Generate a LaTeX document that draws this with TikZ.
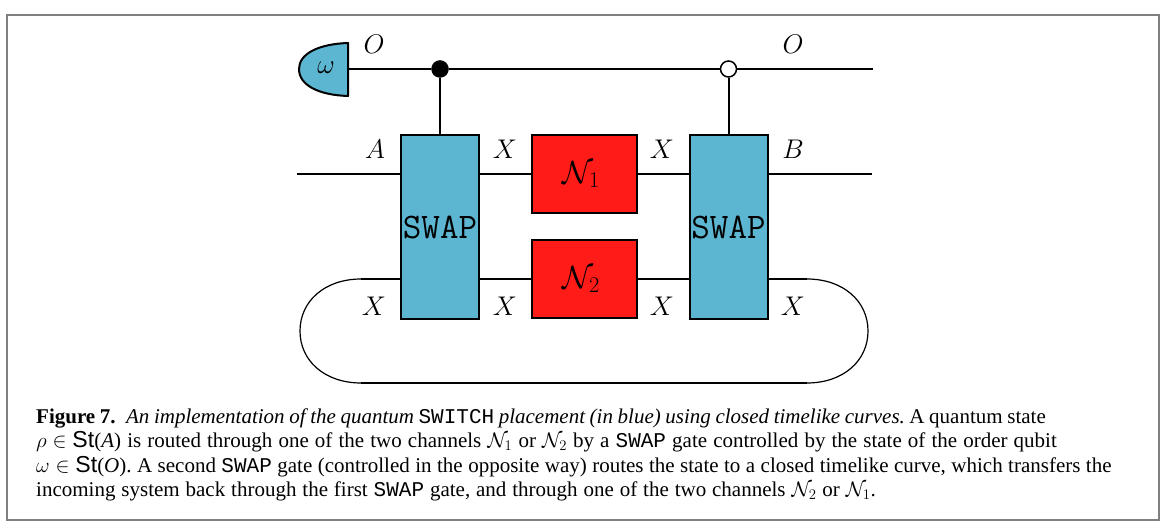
\RequirePackage{fix-cm}
\documentclass[tikz,border=0pt]{standalone}
\usepackage{amsmath, amssymb}
\usepackage{fontspec}
\setmainfont{Liberation Serif}
\setsansfont[Scale=1.1]{Liberation Sans}
\newfontfamily\captt{Liberation Mono}
\usepackage{tikz}
\definecolor{swapblue}{RGB}{93,182,209}
\definecolor{chanred}{RGB}{255,27,24}
\definecolor{framegray}{RGB}{128,128,128}
\tikzset{
  wire/.style={line width=2pt},
  swapbox/.style={draw, line width=2pt, fill=swapblue, minimum width=78pt, minimum height=184pt, inner sep=0pt, font=\fontsize{36}{36}\selectfont\ttfamily},
  chanbox/.style={draw, line width=2pt, fill=chanred, minimum width=105pt, minimum height=78pt, inner sep=0pt, font=\fontsize{32}{32}\selectfont},
  syslabel/.style={inner sep=0pt, font=\fontsize{27}{27}\selectfont},
  capline/.style={anchor=base west, inner sep=0pt, font=\fontsize{21}{24}\selectfont\frenchspacing}
}
\begin{document}
\begin{tikzpicture}[x=1pt, y=-1pt]
        \useasboundingbox (0,0) rectangle (1165,521);
        \draw[framegray, line width=2pt] (7,15) rectangle (1159,520);

        % Nodes
        \node[swapbox] (swap1) at (440,227) {SWAP};
        \node[swapbox] (swap2) at (728.5,227) {SWAP};
        \node[chanbox] (chan1) at (584.5,174.5) {\kern-6pt$\mathcal{N}_1$};
        \node[chanbox] (chan2) at (584.5,279.5) {\kern-6pt$\mathcal{N}_2$};
        \node[draw, circle, fill=black, inner sep=0pt, minimum size=17pt] (ctrl1) at (440,69) {};
        \node[draw, circle, fill=white, line width=1.5pt, inner sep=0pt, minimum size=16pt] (ctrl2) at (728.5,69) {};

        % Free ends
        \coordinate (mtr) at (348,69);
        \coordinate (outO) at (873,69);
        \coordinate (inA) at (297,174.5);
        \coordinate (outB) at (872,174.5);
        \coordinate (loopL) at (361,279);
        \coordinate (loopR) at (807,279);
        \coordinate (loopLb) at (361,383);
        \coordinate (loopRb) at (807,383);

        % Order qubit state
        \draw[wire, fill=swapblue, line join=round] (348,43) .. controls (318,44) and (299,54) .. (299,69) .. controls (299,85) and (318,95) .. (348,96) -- cycle;
        \node[syslabel] (omega) at (326,68) {$\omega$};

        % Edges
        \draw[wire] (mtr) -- (ctrl1);
        \draw[wire] (ctrl1) -- (ctrl2);
        \draw[wire] (ctrl2) -- (outO);
        \draw[wire] (ctrl1) -- (swap1);
        \draw[wire] (ctrl2) -- (swap2);
        \draw[wire] (inA) -- (inA -| swap1.west);
        \draw[wire] (chan1.west -| swap1.east) -- (chan1.west);
        \draw[wire] (chan1.east) -- (chan1.east -| swap2.west);
        \draw[wire] (swap2.east |- outB) -- (outB);
        \draw[wire] (loopL) -- (loopL -| swap1.west);
        \draw[wire] (chan2.west -| swap1.east) -- (chan2.west);
        \draw[wire] (chan2.east) -- (chan2.east -| swap2.west);
        \draw[wire] (swap2.east |- loopR) -- (loopR);
        \draw[wire] (loopLb) -- (loopRb);
        \draw[line width=1.2pt] (loopR) .. controls (843,279) and (868,301) .. (868,331) .. controls (868,361) and (843,383) .. (loopRb);
        \draw[line width=1.2pt] (loopL) .. controls (325,279) and (300,301) .. (300,331) .. controls (300,361) and (325,383) .. (loopLb);

        % Labels
        \node[syslabel] (lO1) at (374,44) {$O$};
        \node[syslabel] (lO2) at (793,44) {$O$};
        \node[syslabel] (lA) at (375,149) {$A$};
        \node[syslabel] (lB) at (793,149) {$B$};
        \node[syslabel] (lX1) at (505,149) {$X$};
        \node[syslabel] (lX2) at (662,149) {$X$};
        \node[syslabel] (lX3) at (374,306) {$X$};
        \node[syslabel] (lX4) at (505,306) {$X$};
        \node[syslabel] (lX5) at (662,306) {$X$};
        \node[syslabel] (lX6) at (793,306) {$X$};

        % Caption
        \node[capline] (cap1) at (36,423) {\spaceskip=4.6pt\relax\textbf{Figure 7.}\enspace\textit{An implementation of the quantum} {\captt SWITCH} \textit{placement (in blue) using closed timelike curves.} A quantum state};
        \node[capline] (cap2) at (36,447.5) {\spaceskip=6.1pt\relax$\rho\in\textsf{St}$(\textit{A}) is routed through one of the two channels $\mathcal{N}_1$ or $\mathcal{N}_2$ by a {\captt SWAP} gate controlled by the state of the order qubit};
        \node[capline] (cap3) at (36,472) {\spaceskip=5.45pt\relax$\omega\in\textsf{St}$(\textit{O}). A second {\captt SWAP} gate (controlled in the opposite way) routes the state to a closed timelike curve, which transfers the};
        \node[capline] (cap4) at (36,496.5) {\spaceskip=5.9pt\relax incoming system back through the first {\captt SWAP} gate, and through one of the two channels $\mathcal{N}_2$ or $\mathcal{N}_1$.};
    \end{tikzpicture}
\end{document}
